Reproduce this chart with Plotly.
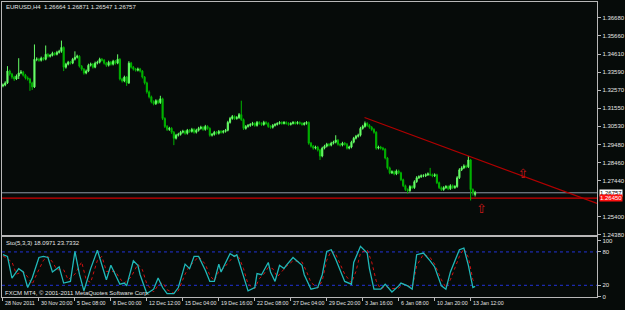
import plotly.graph_objects as go

# ---------------- data (EURUSD H4) ----------------
opens = [
1.3282,1.3287,1.3299,1.3366,1.3349,1.3332,1.3321,1.3338,1.3355,1.3360,
1.3343,1.3327,1.3321,1.3299,1.3276,1.3433,1.3433,1.3427,1.3439,1.3433,
1.3461,1.3450,1.3455,1.3467,1.3461,1.3472,1.3478,1.3500,1.3388,1.3405,
1.3416,1.3411,1.3433,1.3444,1.3450,1.3394,1.3377,1.3355,1.3366,1.3399,
1.3405,1.3388,1.3411,1.3416,1.3433,1.3427,1.3411,1.3399,1.3416,1.3405,
1.3422,1.3411,1.3433,1.3321,1.3310,1.3332,1.3299,1.3411,1.3388,1.3377,
1.3371,1.3377,1.3366,1.3332,1.3299,1.3248,1.3220,1.3192,1.3181,1.3198,
1.3187,1.3209,1.3097,1.3052,1.3035,1.3041,1.3019,1.2985,1.3002,1.3007,
1.3019,1.3024,1.3013,1.3030,1.3024,1.3035,1.3019,1.3030,1.3041,1.3047,
1.3035,1.3052,1.3041,1.3002,1.3007,1.3019,1.3013,1.3024,1.3019,1.3024,
1.3030,1.3075,1.3097,1.3108,1.3097,1.3102,1.3119,1.3091,1.3041,1.3052,
1.3058,1.3063,1.3069,1.3058,1.3075,1.3069,1.3063,1.3075,1.3069,1.3052,
1.3047,1.3058,1.3063,1.3069,1.3075,1.3069,1.3075,1.3069,1.3063,1.3069,
1.3075,1.3069,1.3075,1.3069,1.3063,1.3069,1.3075,1.2957,1.2940,1.2929,
1.2935,1.2918,1.2884,1.2929,1.2940,1.2951,1.2946,1.2957,1.2963,1.2974,
1.2951,1.2946,1.2957,1.2951,1.2929,1.2935,1.2963,1.2985,1.2996,1.3002,
1.3041,1.3052,1.3069,1.3058,1.3047,1.3035,1.3019,1.2929,1.2935,1.2929,
1.2923,1.2873,1.2817,1.2789,1.2795,1.2783,1.2800,1.2789,1.2750,1.2716,
1.2694,1.2688,1.2711,1.2705,1.2739,1.2761,1.2767,1.2772,1.2772,1.2778,
1.2783,1.2778,1.2772,1.2778,1.2733,1.2705,1.2694,1.2705,1.2711,1.2699,
1.2716,1.2705,1.2711,1.2761,1.2806,1.2817,1.2828,1.2823,1.2862,1.2694,
1.2666]

highs = [
1.3296,1.3308,1.3394,1.3374,1.3356,1.3340,1.3347,1.3439,1.3372,1.3367,
1.3350,1.3336,1.3328,1.3306,1.3517,1.3444,1.3441,1.3448,1.3446,1.3511,
1.3468,1.3463,1.3476,1.3474,1.3481,1.3487,1.3539,1.3506,1.3413,1.3424,
1.3423,1.3441,1.3478,1.3459,1.3456,1.3400,1.3383,1.3375,1.3408,1.3414,
1.3412,1.3420,1.3425,1.3442,1.3440,1.3434,1.3418,1.3425,1.3423,1.3430,
1.3429,1.3461,1.3439,1.3328,1.3340,1.3338,1.3422,1.3418,1.3395,1.3384,
1.3386,1.3384,1.3372,1.3338,1.3306,1.3256,1.3227,1.3200,1.3206,1.3205,
1.3226,1.3215,1.3104,1.3060,1.3050,1.3048,1.3026,1.3010,1.3016,1.3027,
1.3033,1.3031,1.3038,1.3037,1.3044,1.3042,1.3039,1.3050,1.3056,1.3054,
1.3061,1.3059,1.3047,1.3015,1.3027,1.3026,1.3032,1.3031,1.3032,1.3038,
1.3084,1.3106,1.3117,1.3115,1.3111,1.3128,1.3198,1.3097,1.3060,1.3066,
1.3071,1.3078,1.3076,1.3083,1.3082,1.3076,1.3084,1.3082,1.3076,1.3059,
1.3066,1.3071,1.3076,1.3082,1.3081,1.3082,1.3081,1.3076,1.3076,1.3082,
1.3081,1.3082,1.3081,1.3076,1.3077,1.3082,1.3080,1.2964,1.2947,1.2943,
1.2942,1.2925,1.2937,1.2948,1.2959,1.2958,1.2965,1.2971,1.3002,1.2980,
1.2958,1.2965,1.2964,1.2958,1.2943,1.2971,1.2993,1.3004,1.3011,1.3050,
1.3061,1.3080,1.3076,1.3065,1.3054,1.3042,1.3025,1.2943,1.2942,1.2936,
1.2929,1.2879,1.2824,1.2803,1.2802,1.2808,1.2807,1.2795,1.2756,1.2722,
1.2701,1.2719,1.2718,1.2747,1.2770,1.2775,1.2780,1.2781,1.2786,1.2791,
1.2817,1.2785,1.2786,1.2784,1.2739,1.2712,1.2713,1.2719,1.2718,1.2724,
1.2723,1.2719,1.2770,1.2815,1.2826,1.2837,1.2835,1.2884,1.2868,1.2701,
1.2687]

lows = [
1.3274,1.3280,1.3293,1.3340,1.3322,1.3310,1.3315,1.3321,1.3348,1.3335,
1.3318,1.3312,1.3254,1.3259,1.3270,1.3422,1.3419,1.3420,1.3425,1.3427,
1.3442,1.3443,1.3449,1.3453,1.3455,1.3465,1.3470,1.3366,1.3380,1.3398,
1.3403,1.3405,1.3426,1.3437,1.3386,1.3368,1.3346,1.3348,1.3360,1.3392,
1.3380,1.3382,1.3404,1.3409,1.3420,1.3403,1.3390,1.3392,1.3397,1.3398,
1.3403,1.3405,1.3313,1.3301,1.3303,1.3282,1.3293,1.3380,1.3369,1.3363,
1.3364,1.3358,1.3324,1.3290,1.3238,1.3211,1.3183,1.3172,1.3174,1.3179,
1.3180,1.3088,1.3043,1.3026,1.3027,1.3010,1.2946,1.2978,1.2995,1.3000,
1.3012,1.3005,1.3006,1.3016,1.3017,1.3011,1.3012,1.3023,1.3034,1.3027,
1.3028,1.3033,1.2994,1.2995,1.3000,1.3005,1.3006,1.3011,1.3012,1.3017,
1.3024,1.3068,1.3090,1.3089,1.3090,1.3095,1.3083,1.3032,1.3034,1.3045,
1.3050,1.3056,1.3050,1.3051,1.3061,1.3055,1.3056,1.3061,1.3044,1.3039,
1.3040,1.3051,1.3057,1.3063,1.3062,1.3063,1.3062,1.3056,1.3057,1.3063,
1.3062,1.3063,1.3062,1.3056,1.3057,1.3062,1.2948,1.2932,1.2920,1.2922,
1.2910,1.2862,1.2877,1.2922,1.2933,1.2938,1.2939,1.2950,1.2956,1.2943,
1.2938,1.2939,1.2943,1.2921,1.2922,1.2928,1.2956,1.2978,1.2989,1.2995,
1.3034,1.3045,1.3050,1.3039,1.3027,1.3011,1.2920,1.2922,1.2921,1.2915,
1.2865,1.2808,1.2781,1.2782,1.2775,1.2776,1.2781,1.2742,1.2708,1.2686,
1.2671,1.2681,1.2697,1.2698,1.2732,1.2754,1.2760,1.2764,1.2765,1.2771,
1.2770,1.2764,1.2765,1.2725,1.2697,1.2686,1.2687,1.2698,1.2691,1.2692,
1.2697,1.2698,1.2704,1.2754,1.2799,1.2810,1.2815,1.2816,1.2632,1.2660,
1.2655]

closes = [
1.3287,1.3299,1.3366,1.3349,1.3332,1.3321,1.3338,1.3355,1.3360,1.3343,
1.3327,1.3321,1.3299,1.3276,1.3433,1.3433,1.3427,1.3439,1.3433,1.3461,
1.3450,1.3455,1.3467,1.3461,1.3472,1.3478,1.3500,1.3388,1.3405,1.3416,
1.3411,1.3433,1.3444,1.3450,1.3394,1.3377,1.3355,1.3366,1.3399,1.3405,
1.3388,1.3411,1.3416,1.3433,1.3427,1.3411,1.3399,1.3416,1.3405,1.3422,
1.3411,1.3433,1.3321,1.3310,1.3332,1.3299,1.3411,1.3388,1.3377,1.3371,
1.3377,1.3366,1.3332,1.3299,1.3248,1.3220,1.3192,1.3181,1.3198,1.3187,
1.3209,1.3097,1.3052,1.3035,1.3041,1.3019,1.2985,1.3002,1.3007,1.3019,
1.3024,1.3013,1.3030,1.3024,1.3035,1.3019,1.3030,1.3041,1.3047,1.3035,
1.3052,1.3041,1.3002,1.3007,1.3019,1.3013,1.3024,1.3019,1.3024,1.3030,
1.3075,1.3097,1.3108,1.3097,1.3102,1.3119,1.3091,1.3041,1.3052,1.3058,
1.3063,1.3069,1.3058,1.3075,1.3069,1.3063,1.3075,1.3069,1.3052,1.3047,
1.3058,1.3063,1.3069,1.3075,1.3069,1.3075,1.3069,1.3063,1.3069,1.3075,
1.3069,1.3075,1.3069,1.3063,1.3069,1.3075,1.2957,1.2940,1.2929,1.2935,
1.2918,1.2884,1.2929,1.2940,1.2951,1.2946,1.2957,1.2963,1.2974,1.2951,
1.2946,1.2957,1.2951,1.2929,1.2935,1.2963,1.2985,1.2996,1.3002,1.3041,
1.3052,1.3069,1.3058,1.3047,1.3035,1.3019,1.2929,1.2935,1.2929,1.2923,
1.2873,1.2817,1.2789,1.2795,1.2783,1.2800,1.2789,1.2750,1.2716,1.2694,
1.2688,1.2711,1.2705,1.2739,1.2761,1.2767,1.2772,1.2772,1.2778,1.2783,
1.2778,1.2772,1.2778,1.2733,1.2705,1.2694,1.2705,1.2711,1.2699,1.2716,
1.2705,1.2711,1.2761,1.2806,1.2817,1.2828,1.2823,1.2862,1.2694,1.2677,
1.2676]

bars = list(range(len(closes)))

# Stochastic(5,3,3): main line and signal line, read as (bar, value) points
sto_bars = [0,2,4,7,9,11,13,16,18,20,22,25,27,30,32,34,36,39,42,44,46,48,50,52,54,55,
            58,60,61,64,67,69,71,73,76,78,81,83,85,87,90,92,94,96,97,101,103,104,107,109,
            112,113,115,118,119,121,123,125,126,129,133,134,137,140,142,144,146,148,152,155,
            156,159,162,163,165,168,170,173,176,177,180,182,184,187,190,192,195,197,199,203,
            205,207,209,210]
sto_main = [75,72,33,50,44,16,33,70,72,70,44,53,24,27,81,40,10,50,83,56,30,56,39,22,24,19,
            64,56,39,5,13,33,16,5,5,16,58,50,72,72,47,27,27,58,44,77,72,75,36,10,
            16,41,39,61,44,27,56,50,56,70,56,39,13,16,39,81,84,67,27,22,
            61,90,78,50,13,13,22,8,19,24,19,13,75,78,64,53,19,13,44,84,
            87,56,16,18.1]

sig_bars = [0,4,6,9,11,13,15,18,20,22,24,27,29,32,35,37,39,42,44,46,48,50,52,54,57,60,
            62,64,67,69,71,73,76,78,81,83,85,87,90,92,94,96,98,101,103,105,107,109,112,114,
            116,118,120,122,124,126,129,133,135,137,140,142,144,146,148,152,155,157,159,162,
            164,166,168,170,173,176,178,180,182,184,187,190,192,195,197,199,203,205,207,209,210]
sig_vals = [73,62,40,45,35,22,40,65,72,62,48,48,30,40,62,30,25,65,72,45,45,45,32,24,35,58,
            48,22,8,20,25,12,6,10,40,55,62,72,58,38,28,45,50,65,74,70,50,22,14,32,
            40,52,50,35,45,54,64,62,45,25,15,28,65,82,76,40,24,45,78,84,
            62,28,13,18,14,15,22,20,15,55,76,70,58,30,16,30,72,86,70,30,23.7]

price_ticks = [1.36680, 1.35660, 1.34610, 1.33590, 1.32570, 1.31550, 1.30530,
               1.29480, 1.28460, 1.27440, 1.25400, 1.24380]
sto_ticks = [0, 20, 80, 100]
sto_levels = [20, 80]

date_bars = [0, 16, 32, 48, 64, 80, 96, 112, 128, 144, 160, 176, 192, 208]
date_labels = ["28 Nov 2011", "30 Nov 20:00", "5 Dec 08:00", "8 Dec 00:00", "12 Dec 12:00",
               "15 Dec 04:00", "19 Dec 16:00", "22 Dec 08:00", "27 Dec 04:00",
               "29 Dec 20:00", "3 Jan 16:00", "6 Jan 08:00", "10 Jan 20:00", "13 Jan 12:00"]

bid_price = 1.26757
red_level = 1.26450
trend_bars = [160.8, 264.5]
trend_prices = [1.31026, 1.26140]
arrow_bars = [212.8, 231.3]
arrow_prices = [1.25818, 1.27780]

# ---------------- styling ----------------
BG = "#060b09"
FRAME = "#b8b8b8"
TXT = "#e4e4e4"
FONT = "Liberation Sans"
FS = 6
FS_DATE = 5.3
UP = "#66ff66"
DOWN = "#00b400"
XR = [-0.44, 264.3]

fig = go.Figure()

fig.add_trace(go.Candlestick(
    x=bars, open=opens, high=highs, low=lows, close=closes,
    xaxis="x", yaxis="y", showlegend=False, hoverinfo="skip",
    increasing=dict(line=dict(color=UP, width=1), fillcolor=UP),
    decreasing=dict(line=dict(color=DOWN, width=1), fillcolor=DOWN),
))

fig.add_trace(go.Scatter(x=trend_bars, y=trend_prices, mode="lines",
                         line=dict(color="#b00000", width=1.2),
                         xaxis="x", yaxis="y", showlegend=False, hoverinfo="skip"))

fig.add_trace(go.Scatter(x=arrow_bars, y=arrow_prices, mode="text", text=["⇧", "⇧"],
                         textfont=dict(color="#c81818", size=13, family="DejaVu Sans"),
                         textposition="middle center",
                         xaxis="x", yaxis="y", showlegend=False, hoverinfo="skip"))

fig.add_trace(go.Scatter(x=sig_bars, y=sig_vals, mode="lines",
                         line=dict(color="#d01010", width=1, dash="dot"),
                         xaxis="x2", yaxis="y2", showlegend=False, hoverinfo="skip"))
fig.add_trace(go.Scatter(x=sto_bars, y=sto_main, mode="lines",
                         line=dict(color="#20b8b8", width=1.3),
                         xaxis="x2", yaxis="y2", showlegend=False, hoverinfo="skip"))

shapes = [
    dict(type="line", xref="x domain", x0=0, x1=1, yref="y", y0=bid_price, y1=bid_price,
         line=dict(color="#8e9aa8", width=1), layer="below"),
    dict(type="line", xref="x domain", x0=0, x1=1, yref="y", y0=red_level, y1=red_level,
         line=dict(color="#d00000", width=1.2), layer="below"),
]
for lv in sto_levels:
    shapes.append(dict(type="line", xref="x2 domain", x0=0, x1=1, yref="y2", y0=lv, y1=lv,
                       line=dict(color="#2233d8", width=1, dash="dot"), layer="below"))

ann = []
def txt(x, y, s, color=TXT, **kw):
    ann.append(dict(x=x, y=y, xref="paper", yref="paper", text=s, showarrow=False,
                    xanchor="left", yanchor="middle",
                    font=dict(family=FONT, size=FS, color=color), **kw))

W, H = 625.0, 310.0
txt(4 / W, 1 - 7 / H, "EURUSD,H4  1.26664 1.26871 1.26547 1.26757")
txt(4 / W, 1 - 245 / H, "Sto(5,3,3) 18.0971 23.7332")
txt(3 / W, 1 - 296 / H, "FXCM MT4, © 2001-2011 MetaQuotes Software Corp.")

for b, lab in zip(date_bars, date_labels):
    ann.append(dict(x=b + 0.1, y=1 - 305.5 / H, xref="x2", yref="paper", text=lab,
                    showarrow=False, xanchor="left", yanchor="middle",
                    font=dict(family=FONT, size=FS_DATE, color=TXT)))

# price boxes on the right axis
ann.append(dict(x=604.5 / W, y=bid_price, xref="paper", yref="y", text="1.26757",
                showarrow=False, xanchor="left", yanchor="middle", bgcolor="#ffffff",
                borderpad=0, font=dict(family=FONT, size=FS, color="#000000")))
ann.append(dict(x=604.5 / W, y=red_level, xref="paper", yref="y", text="1.26450",
                showarrow=False, xanchor="left", yanchor="middle", bgcolor="#ff1010",
                borderpad=0, font=dict(family=FONT, size=FS, color="#ffffff")))

axis_common = dict(showgrid=False, zeroline=False, showline=True, linecolor=FRAME,
                   linewidth=1, mirror=True)

fig.update_layout(
    width=625, height=310, margin=dict(l=0, r=0, t=0, b=0),
    paper_bgcolor=BG, plot_bgcolor=BG, showlegend=False,
    font=dict(family=FONT, size=FS, color=TXT),
    xaxis=dict(domain=[2 / W, 603 / W], range=XR, anchor="y", showticklabels=False,
               ticks="", rangeslider=dict(visible=False), fixedrange=True, **axis_common),
    yaxis=dict(domain=[1 - 237 / H, 1 - 2 / H], range=[1.2438, 1.37579], anchor="x",
               side="right", tickvals=price_ticks,
               ticktext=[f"{v:.5f}" for v in price_ticks],
               ticks="outside", ticklen=3, tickcolor=FRAME,
               tickfont=dict(family=FONT, size=FS, color=TXT), **axis_common),
    xaxis2=dict(domain=[2 / W, 603 / W], range=XR, anchor="y2", showticklabels=False,
                tickvals=date_bars, ticks="outside", ticklen=3, tickcolor=FRAME,
                **axis_common),
    yaxis2=dict(domain=[1 - 300 / H, 1 - 239.5 / H], range=[-1.2, 106.5], anchor="x2",
                side="right", tickvals=sto_ticks, ticktext=[str(v) for v in sto_ticks],
                ticks="outside", ticklen=3, tickcolor=FRAME,
                tickfont=dict(family=FONT, size=FS, color=TXT), **axis_common),
    shapes=shapes, annotations=ann,
)

fig.write_html("out.html")
